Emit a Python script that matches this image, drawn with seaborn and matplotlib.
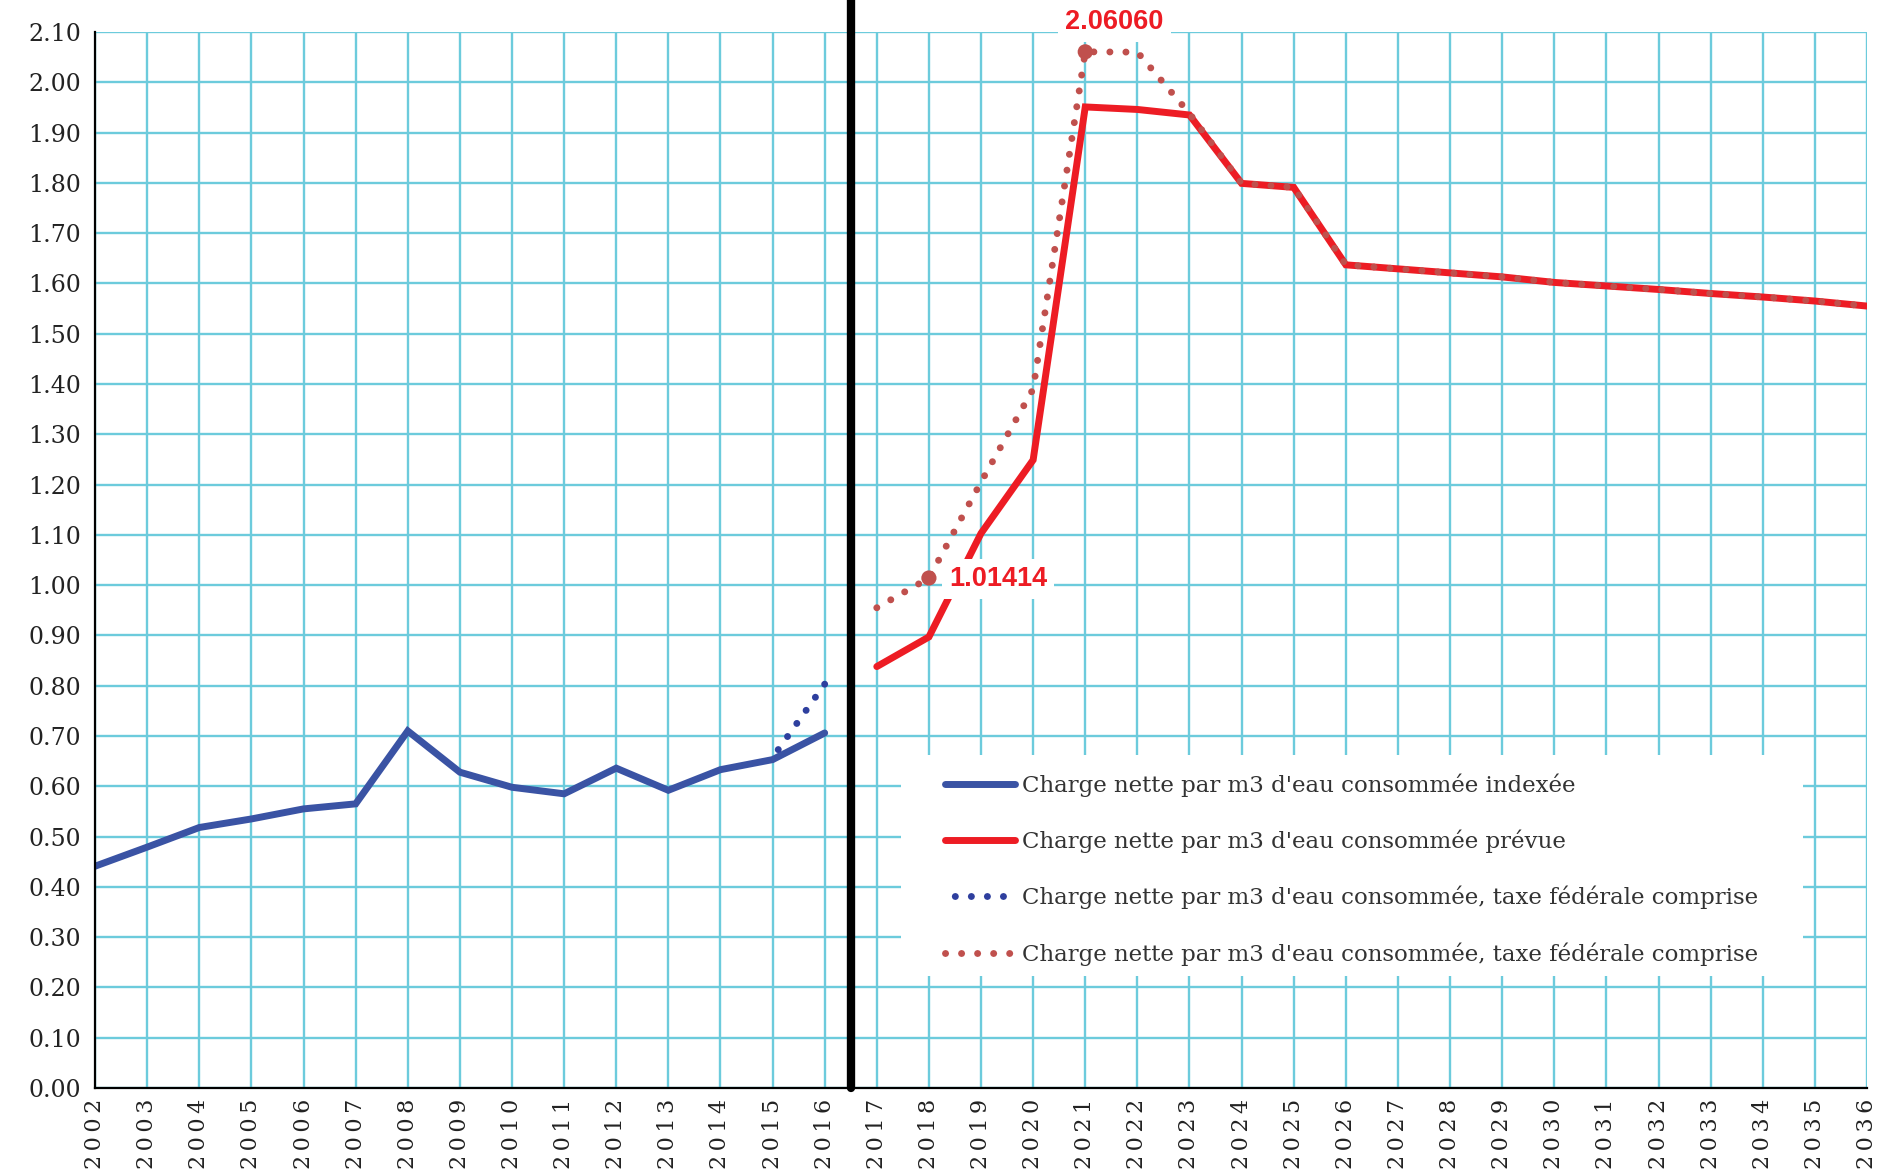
import numpy as np
import pandas as pd
import matplotlib
matplotlib.use('Agg')
import matplotlib.pyplot as plt
from matplotlib.patches import Rectangle
import seaborn as sns

# valeurs
annees_hist = [2002, 2003, 2004, 2005, 2006, 2007, 2008, 2009, 2010, 2011, 2012, 2013, 2014, 2015, 2016]
charge_indexee = [0.441, 0.479, 0.518, 0.535, 0.555, 0.565, 0.710, 0.628, 0.598, 0.585, 0.636, 0.592, 0.633, 0.653, 0.706]

annees_taxe_hist = [2015, 2016]
charge_taxe_hist = [0.657, 0.803]

annees_prev = [2017, 2018, 2019, 2020, 2021, 2022, 2023, 2024, 2025, 2026,
               2027, 2028, 2029, 2030, 2031, 2032, 2033, 2034, 2035, 2036]
charge_prevue = [0.838, 0.897, 1.103, 1.249, 1.951, 1.946, 1.935, 1.799, 1.791, 1.637,
                 1.629, 1.621, 1.613, 1.602, 1.595, 1.588, 1.580, 1.573, 1.565, 1.555]
charge_taxe_prev = [0.955, 1.014, 1.205, 1.390, 2.0606, 2.060, 1.938, 1.799, 1.791, 1.637,
                    1.629, 1.621, 1.613, 1.602, 1.595, 1.588, 1.580, 1.573, 1.565, 1.555]

points_annotes_x = [2018, 2021]
points_annotes_y = [1.01414, 2.06060]

labels = ["Charge nette par m3 d'eau consommée indexée",
          "Charge nette par m3 d'eau consommée prévue",
          "Charge nette par m3 d'eau consommée, taxe fédérale comprise",
          "Charge nette par m3 d'eau consommée, taxe fédérale comprise"]

bleu = '#3a53a4'
rouge = '#ed1c24'
bleu_pt = '#2e3f9e'
rouge_pt = '#c0504d'
grille = '#6ccbdc'

sns.set_style('white')
plt.rcParams['font.family'] = ['DejaVu Serif']

fig, ax = plt.subplots(figsize=(18.79, 11.73), dpi=100)
fig.subplots_adjust(left=0.0506, right=0.9936, bottom=0.0725, top=0.9727)

sns.lineplot(x=annees_hist, y=charge_indexee, ax=ax, color=bleu, linewidth=5,
             solid_capstyle='round', solid_joinstyle='miter', zorder=4)
sns.lineplot(x=annees_prev, y=charge_prevue, ax=ax, color=rouge, linewidth=5,
             solid_capstyle='round', solid_joinstyle='miter', zorder=4)
sns.lineplot(x=annees_taxe_hist, y=charge_taxe_hist, ax=ax, color=bleu_pt, linewidth=5,
             linestyle=(0.9, (0.01, 2.3)), dash_capstyle='round', zorder=5)
sns.lineplot(x=annees_prev, y=charge_taxe_prev, ax=ax, color=rouge_pt, linewidth=5,
             linestyle=(0, (0.01, 2.3)), dash_capstyle='round', zorder=5)
lignes = ax.get_lines()[:4]

sns.scatterplot(x=points_annotes_x, y=points_annotes_y, ax=ax, color=rouge_pt, s=120,
                edgecolor='none', zorder=6)

ax.set_xlim(2002, 2036)
ax.set_ylim(0, 2.10)
ax.set_xticks(range(2002, 2037))
ax.set_xticklabels(['\u2009'.join(str(a)) for a in range(2002, 2037)], rotation=90, fontsize=16)
ax.set_yticks(np.arange(0, 2.101, 0.1))
ax.set_yticklabels([f'{v:.2f}' for v in np.arange(0, 2.101, 0.1)], fontsize=17)
ax.tick_params(axis='both', direction='inout', length=10, width=1.5, color='black',
               labelcolor='#222222')
ax.tick_params(axis='y', pad=5)
ax.tick_params(axis='x', pad=3)
ax.set_xlabel('')
ax.set_ylabel('')

ax.grid(True, color=grille, linewidth=1.7)
ax.set_axisbelow(True)
sns.despine(ax=ax)
for s in ['left', 'bottom']:
    ax.spines[s].set_color('black')
    ax.spines[s].set_linewidth(1.6)
    ax.spines[s].set_zorder(7)

# séparation historique / prévision
ax.axvline(2016.5, ymin=0, ymax=1.031, color='black', linewidth=6, clip_on=False, zorder=8)

# fond blanc de la légende
ax.add_patch(Rectangle((0.455, 0.106), 0.509, 0.209, transform=ax.transAxes,
                       facecolor='white', edgecolor='none', zorder=3))
leg = ax.legend(lignes, labels, loc='upper left', bbox_to_anchor=(0.4797, 0.298),
                frameon=False, fontsize=16.5, handlelength=3.05, handletextpad=0.3,
                labelspacing=1.43, borderpad=0, borderaxespad=0)
for t in leg.get_texts():
    t.set_color('#333333')
leg.set_zorder(9)

boite = dict(facecolor='white', edgecolor='none', pad=5)
ax.text(2021.56, 2.12, '2.06060', ha='center', va='center', fontsize=19.5, fontweight='bold',
        color=rouge, family=['Liberation Sans', 'DejaVu Sans'], bbox=boite, zorder=9, clip_on=False)
ax.text(2019.33, 1.012, '1.01414', ha='center', va='center', fontsize=19.5, fontweight='bold',
        color=rouge, family=['Liberation Sans', 'DejaVu Sans'], bbox=boite, zorder=9)

plt.savefig('out.png', dpi=100)
